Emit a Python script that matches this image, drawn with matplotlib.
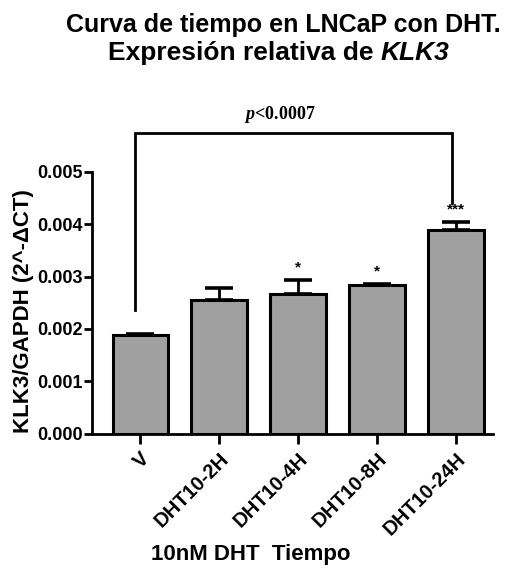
import matplotlib
matplotlib.use("Agg")
import matplotlib.pyplot as plt
import numpy as np

categories = ["V", "DHT10-2H", "DHT10-4H", "DHT10-8H", "DHT10-24H"]
values = [0.00188, 0.00256, 0.00267, 0.00284, 0.00389]
errors = [0.00002, 0.00023, 0.00026, 0.00002, 0.00015]
stars = ["", "", "*", "*", "***"]
yticks = [0.000, 0.001, 0.002, 0.003, 0.004, 0.005]
ytick_labels = ["0.000", "0.001", "0.002", "0.003", "0.004", "0.005"]

FONT = "Liberation Sans"
plt.rcParams["mathtext.fontset"] = "custom"
plt.rcParams["mathtext.it"] = "Liberation Serif:italic:bold"
plt.rcParams["mathtext.rm"] = "Liberation Serif:bold"

W, H = 519, 568
fig = plt.figure(figsize=(W / 100, H / 100), dpi=100)
ax = fig.add_axes([92 / W, 1 - 433.7 / H, (493 - 92) / W, (433.7 - 171.7) / H])

x = np.arange(len(categories))
ax.bar(x, values, width=0.70, color="#a0a0a0", edgecolor="black", linewidth=2.2, zorder=2)
ax.errorbar(x, values, yerr=[np.zeros(len(errors)), errors], fmt="none", ecolor="black",
            elinewidth=2, capsize=10, capthick=2.6, zorder=1)

for xi, v, e, s in zip(x, values, errors, stars):
    if s:
        ax.text(xi, v + e + 0.0001, s, ha="center", va="bottom", fontsize=11,
                fontweight="bold", family=FONT)

ax.set_xlim(-0.61, 4.47)
ax.set_ylim(0, 0.005)
ax.set_yticks(yticks)
ax.set_yticklabels(ytick_labels, fontsize=13, fontweight="bold", family=FONT)
ax.set_xticks(x)
ax.set_xticklabels(categories, rotation=45, ha="right", va="top", rotation_mode="anchor",
                   fontsize=14.5, fontweight="bold", family=FONT)
for sp in ["top", "right"]:
    ax.spines[sp].set_visible(False)
for sp in ["left", "bottom"]:
    ax.spines[sp].set_linewidth(2)
ax.tick_params(axis="y", length=6, width=2, pad=0.5)
ax.tick_params(axis="x", length=7, width=2, pad=4)

# significance bracket
bx0, bx1 = x[0] - 0.06, x[4] - 0.05
ytop = 0.00574
ax.plot([bx0, bx0, bx1, bx1], [0.00236, ytop, ytop, 0.0044], color="black", lw=2,
        clip_on=False, solid_joinstyle="miter")
ax.text(1.77, ytop + 0.00015, r"$p$<0.0007", ha="center", va="bottom", fontsize=13,
        fontweight="bold", family="Liberation Serif", clip_on=False)

fig.text(24 / W, 1 - 311 / H, "KLK3/GAPDH (2^-ΔCT)", rotation=90, ha="center", va="center",
         fontsize=16, fontweight="bold", family=FONT)
fig.text(251 / W, 1 - 560 / H, "10nM DHT  Tiempo", ha="center", va="baseline",
         fontsize=16, fontweight="bold", family=FONT)

fig.text(283 / W, 1 - 31.7 / H, "Curva de tiempo en LNCaP con DHT.", ha="center",
         va="baseline", fontsize=18, fontweight="bold", family=FONT)
fig.text(374 / W, 1 - 60 / H, "Expresión relativa de", ha="right", va="baseline",
         fontsize=19, fontweight="bold", family=FONT)
fig.text(381 / W, 1 - 60 / H, "KLK3", ha="left", va="baseline",
         fontsize=19, fontweight="bold", fontstyle="italic", family=FONT)

fig.savefig("out.png", dpi=100)
